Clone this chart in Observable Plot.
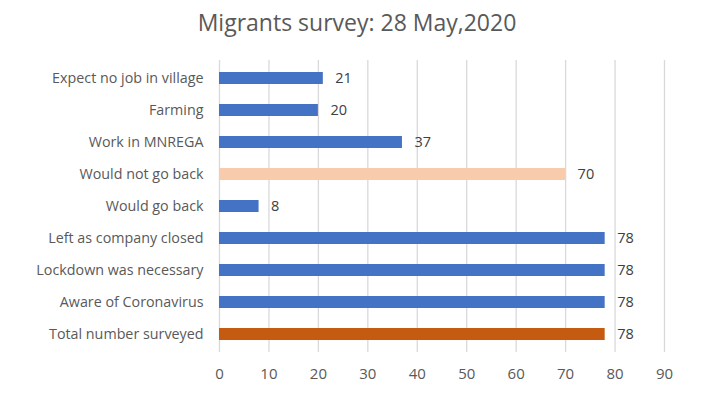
<!DOCTYPE html>
<html>
<head>
<meta charset="utf-8">
<script src="https://cdn.jsdelivr.net/npm/d3@7"></script>
<script src="https://cdn.jsdelivr.net/npm/@observablehq/plot@0.6"></script>
<style>
  body { margin: 0; background: #fff; }
  #title { height: 45px; line-height: 44px; text-align: center; font-family: "Open Sans", sans-serif; font-size: 23px; color: #595959; }
  svg { display: block; }
</style>
</head>
<body>
<div id="title">Migrants survey: 28 May,2020</div>
<div id="chart"></div>
<script>
const categories = [
  "Expect no job in village",
  "Farming",
  "Work in MNREGA",
  "Would not go back",
  "Would go back",
  "Left as company closed",
  "Lockdown was necessary",
  "Aware of Coronavirus",
  "Total number surveyed"
];
const values = [21, 20, 37, 70, 8, 78, 78, 78, 78];
const barColors = ["#4472C4", "#4472C4", "#4472C4", "#F8CBAD", "#4472C4", "#4472C4", "#4472C4", "#4472C4", "#C55A11"];
const xTicks = [0, 10, 20, 30, 40, 50, 60, 70, 80, 90];

const data = categories.map((c, i) => ({category: c, value: values[i], color: barColors[i]}));

const chart = Plot.plot({
  width: 714,
  height: 350,
  marginLeft: 219,
  marginRight: 50,
  marginTop: 15,
  marginBottom: 43,
  style: {fontFamily: "'Open Sans', sans-serif", fontSize: "14px", color: "#595959", background: "#fff"},
  x: {domain: [0, 90], ticks: xTicks, label: null},
  y: {domain: categories, paddingInner: 0.63, paddingOuter: 0.315, label: null},
  color: {type: "identity"},
  marks: [
    Plot.gridX(xTicks, {stroke: "#d9d9d9", strokeOpacity: 1, strokeWidth: 1.3}),
    Plot.barX(data, {x: "value", y: "category", fill: "color"}),
    Plot.text(data, {x: "value", y: "category", text: d => String(d.value), dx: 12, textAnchor: "start", fill: "#404040", fontSize: 14.5}),
    Plot.axisX(xTicks, {tickSize: 0, tickPadding: 16, fontSize: 15, fill: "#595959", label: null}),
    Plot.axisY({tickSize: 0, tickPadding: 16, fontSize: 14.3, fill: "#595959", label: null})
  ]
});
document.getElementById("chart").appendChild(chart);
</script>
</body>
</html>
